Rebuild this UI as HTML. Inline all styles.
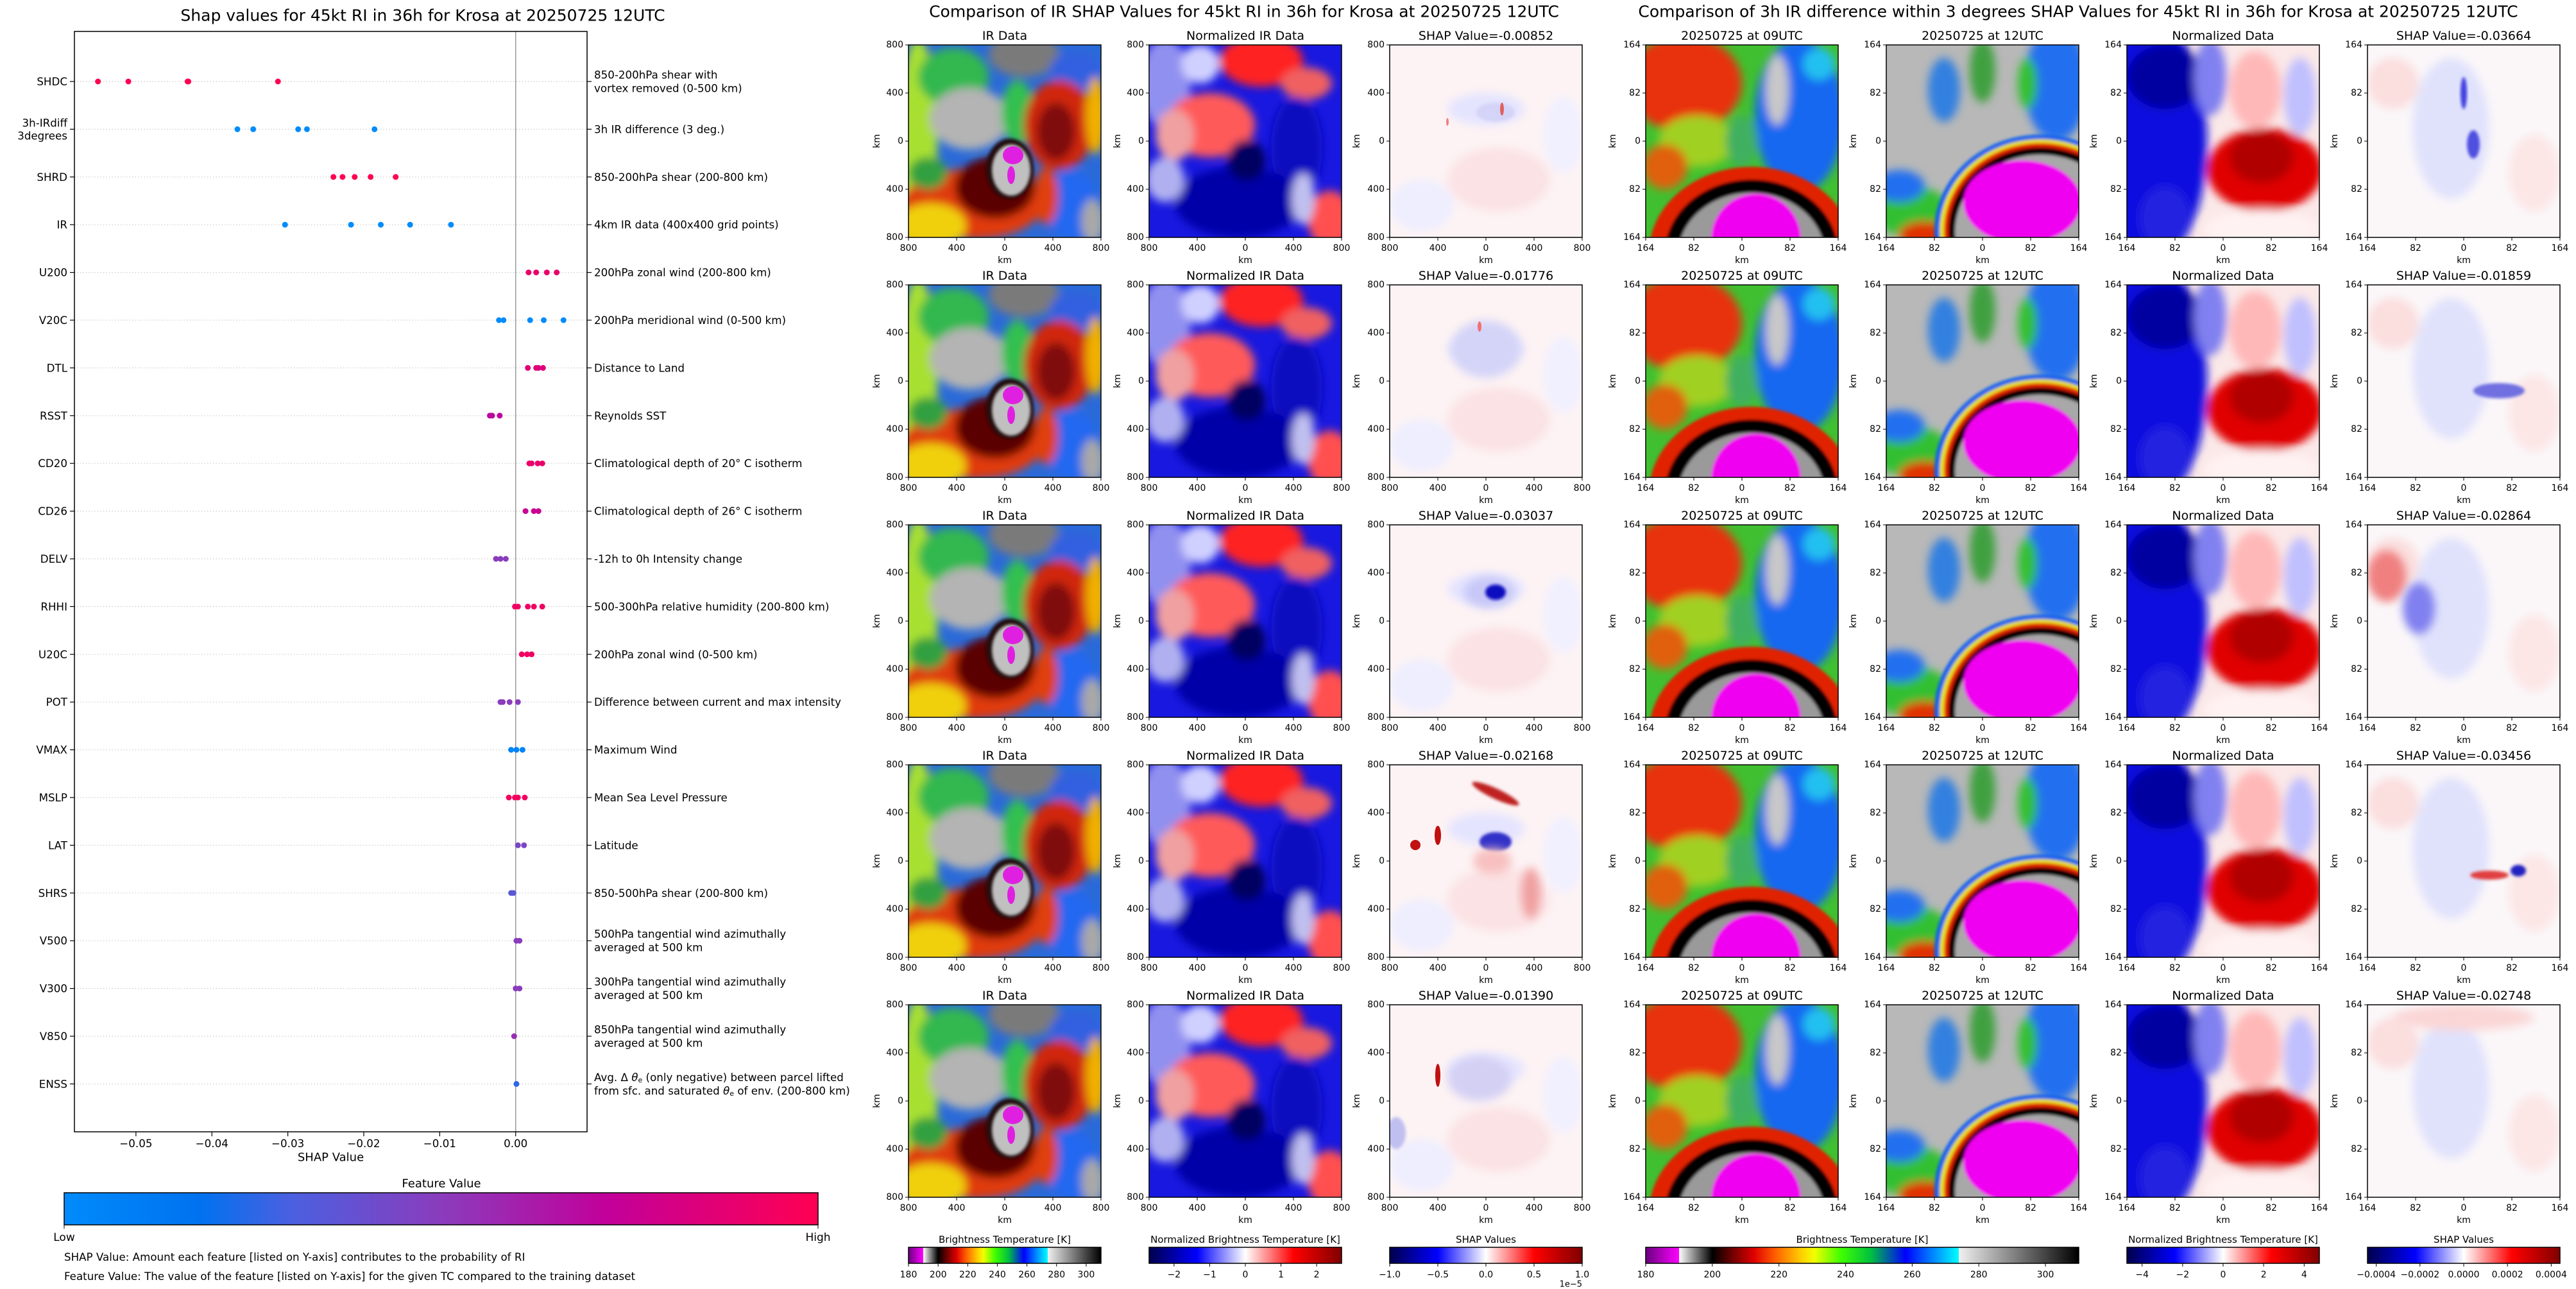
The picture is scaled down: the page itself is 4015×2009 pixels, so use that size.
<!DOCTYPE html>
<html><head><meta charset="utf-8">
<style>
body{margin:0;background:#fff}
svg{display:block;font-family:"DejaVu Sans","Liberation Sans",sans-serif}
</style></head>
<body>
<svg id="fig" width="4015" height="2009" viewBox="0 0 4015 2009" xmlns="http://www.w3.org/2000/svg">
<defs>
<filter id="bl" x="-30%" y="-30%" width="160%" height="160%"><feGaussianBlur stdDeviation="7"/></filter>
<filter id="bs" x="-30%" y="-30%" width="160%" height="160%"><feGaussianBlur stdDeviation="2.5"/></filter>
<clipPath id="pc"><rect width="300" height="300"/></clipPath>
<linearGradient id="gShapCmap"><stop offset="0" stop-color="#008bfb"/><stop offset="0.18" stop-color="#0072ef"/><stop offset="0.3" stop-color="#4a60e0"/><stop offset="0.5" stop-color="#8a3cbc"/><stop offset="0.72" stop-color="#c2009a"/><stop offset="1" stop-color="#ff0052"/></linearGradient>
<linearGradient id="gIR"><stop offset="0" stop-color="#6a0080"/><stop offset="0.0769" stop-color="#ff00ff"/><stop offset="0.0769" stop-color="#ffffff"/><stop offset="0.1538" stop-color="#000000"/><stop offset="0.2" stop-color="#700000"/><stop offset="0.25" stop-color="#e00000"/><stop offset="0.3" stop-color="#ff6000"/><stop offset="0.36" stop-color="#ffd000"/><stop offset="0.39" stop-color="#f0ff00"/><stop offset="0.45" stop-color="#40ff00"/><stop offset="0.52" stop-color="#00c040"/><stop offset="0.6" stop-color="#0000ff"/><stop offset="0.66" stop-color="#0080ff"/><stop offset="0.723" stop-color="#00ffff"/><stop offset="0.723" stop-color="#f0f0f0"/><stop offset="1" stop-color="#000000"/></linearGradient>
<linearGradient id="gSeis"><stop offset="0" stop-color="#00004c"/><stop offset="0.25" stop-color="#0000ff"/><stop offset="0.5" stop-color="#ffffff"/><stop offset="0.75" stop-color="#ff0000"/><stop offset="1" stop-color="#800000"/></linearGradient>

<g id="irImg" clip-path="url(#pc)">
<rect width="300" height="300" fill="#2a6ad8"/>
<g filter="url(#bl)">
<ellipse cx="15" cy="150" rx="30" ry="160" fill="#a8e030"/>
<ellipse cx="70" cy="50" rx="55" ry="45" fill="#30b850"/>
<ellipse cx="95" cy="115" rx="62" ry="48" fill="#b4b4b4"/>
<ellipse cx="180" cy="15" rx="55" ry="35" fill="#7a7a7a"/>
<ellipse cx="260" cy="40" rx="40" ry="30" fill="#3060e0"/>
<ellipse cx="170" cy="105" rx="25" ry="50" fill="#30c050"/>
<ellipse cx="235" cy="125" rx="55" ry="70" fill="#d02808"/>
<ellipse cx="230" cy="135" rx="30" ry="45" fill="#801008"/>
<ellipse cx="292" cy="110" rx="16" ry="60" fill="#f0b000"/>
<ellipse cx="100" cy="248" rx="110" ry="55" fill="#e03a08"/>
<ellipse cx="135" cy="222" rx="62" ry="48" fill="#5a0606"/>
<ellipse cx="35" cy="282" rx="55" ry="35" fill="#f0d010"/>
<ellipse cx="30" cy="200" rx="30" ry="25" fill="#30a040"/>
<ellipse cx="255" cy="250" rx="40" ry="55" fill="#2068f0"/>
<ellipse cx="287" cy="275" rx="18" ry="35" fill="#a8a8a8"/>
<ellipse cx="215" cy="235" rx="18" ry="45" fill="#e04010"/>
</g>
<ellipse cx="158" cy="193" rx="37" ry="47" fill="#201010" filter="url(#bs)"/>
<ellipse cx="160" cy="195" rx="30" ry="40" fill="#c0c0c0" filter="url(#bs)"/>
<ellipse cx="163" cy="172" rx="16" ry="14" fill="#e020e0"/>
<ellipse cx="160" cy="203" rx="6" ry="14" fill="#e020e0"/>
</g>

<g id="normImg" clip-path="url(#pc)">
<rect width="300" height="300" fill="#1818e0"/>
<g filter="url(#bl)">
<ellipse cx="25" cy="60" rx="40" ry="70" fill="#9090f0"/>
<ellipse cx="80" cy="30" rx="30" ry="30" fill="#d0d0ff"/>
<ellipse cx="175" cy="25" rx="65" ry="40" fill="#ff2020"/>
<ellipse cx="245" cy="60" rx="40" ry="25" fill="#f06060"/>
<ellipse cx="95" cy="125" rx="70" ry="50" fill="#ff5a5a"/>
<ellipse cx="40" cy="140" rx="30" ry="40" fill="#f0a0a0"/>
<ellipse cx="230" cy="160" rx="40" ry="80" fill="#0808c0"/>
<ellipse cx="140" cy="245" rx="100" ry="55" fill="#0000a8"/>
<ellipse cx="25" cy="210" rx="30" ry="35" fill="#b0b0f0"/>
<ellipse cx="282" cy="272" rx="35" ry="45" fill="#ff5050"/>
<ellipse cx="240" cy="240" rx="18" ry="40" fill="#c0c0f0"/>
<ellipse cx="152" cy="180" rx="30" ry="32" fill="#000060"/>
</g>
</g>

<g id="shapMid" clip-path="url(#pc)">
<rect width="300" height="300" fill="#fdf3f4"/>
<g filter="url(#bl)">
<ellipse cx="150" cy="100" rx="60" ry="25" fill="#e4e4ff"/>
<ellipse cx="170" cy="210" rx="80" ry="50" fill="#fbe2e4"/>
<ellipse cx="50" cy="250" rx="50" ry="40" fill="#eeeeff"/>
<ellipse cx="270" cy="140" rx="30" ry="60" fill="#f0f0ff"/>
</g>
</g>

<g id="img09" clip-path="url(#pc)">
<rect width="300" height="300" fill="#40c030"/>
<g filter="url(#bl)">
<ellipse cx="60" cy="60" rx="90" ry="75" fill="#e83010"/>
<ellipse cx="240" cy="110" rx="70" ry="120" fill="#1468f0"/>
<ellipse cx="205" cy="70" rx="18" ry="55" fill="#c8c8c8"/>
<ellipse cx="270" cy="30" rx="25" ry="25" fill="#20c0f0"/>
<ellipse cx="80" cy="150" rx="60" ry="40" fill="#a0d020"/>
<ellipse cx="30" cy="190" rx="35" ry="35" fill="#e06010"/>
<ellipse cx="150" cy="150" rx="25" ry="40" fill="#40b060"/>
</g>
<g filter="url(#bs)">
<ellipse cx="165" cy="325" rx="160" ry="135" fill="#e02000"/>
<ellipse cx="165" cy="325" rx="135" ry="115" fill="#000000"/>
<ellipse cx="165" cy="330" rx="115" ry="100" fill="#9a9a9a"/>
<ellipse cx="172" cy="302" rx="70" ry="70" fill="#f000f0"/>
</g>
</g>

<g id="img12" clip-path="url(#pc)">
<rect width="300" height="300" fill="#b8b8b8"/>
<g filter="url(#bl)">
<ellipse cx="265" cy="60" rx="50" ry="90" fill="#2070f0"/>
<ellipse cx="150" cy="40" rx="20" ry="50" fill="#40a040"/>
<ellipse cx="90" cy="70" rx="25" ry="50" fill="#3080e0"/>
<ellipse cx="220" cy="60" rx="15" ry="40" fill="#30c030"/>
<ellipse cx="40" cy="260" rx="60" ry="40" fill="#30c030"/>
<ellipse cx="60" cy="295" rx="40" ry="20" fill="#e03000"/>
<ellipse cx="20" cy="220" rx="40" ry="25" fill="#2070f0"/>
</g>
<g filter="url(#bs)">
<ellipse cx="240" cy="290" rx="165" ry="150" fill="#1060f0"/>
<ellipse cx="240" cy="290" rx="157" ry="143" fill="#e8e020"/>
<ellipse cx="240" cy="290" rx="150" ry="137" fill="#e02000"/>
<ellipse cx="240" cy="290" rx="143" ry="130" fill="#000000"/>
<ellipse cx="240" cy="292" rx="133" ry="121" fill="#a8a8a8"/>
<ellipse cx="212" cy="245" rx="92" ry="65" fill="#f000f0"/>
</g>
</g>

<g id="normR" clip-path="url(#pc)">
<rect width="300" height="300" fill="#fbe8e8"/>
<g filter="url(#bl)">
<ellipse cx="40" cy="150" rx="85" ry="190" fill="#1010e0"/>
<ellipse cx="60" cy="50" rx="60" ry="50" fill="#0000a0"/>
<ellipse cx="130" cy="50" rx="25" ry="60" fill="#8080f0"/>
<ellipse cx="200" cy="70" rx="40" ry="60" fill="#ffb8b8"/>
<ellipse cx="270" cy="80" rx="25" ry="60" fill="#c0c0ff"/>
<ellipse cx="215" cy="195" rx="90" ry="65" fill="#e00000"/>
<ellipse cx="210" cy="175" rx="50" ry="40" fill="#b00000"/>
<ellipse cx="210" cy="287" rx="90" ry="30" fill="#fff2f2"/>
<ellipse cx="60" cy="270" rx="40" ry="50" fill="#2020e0"/>
</g>
</g>

<g id="shapR" clip-path="url(#pc)">
<rect width="300" height="300" fill="#fbf7f9"/>
<g filter="url(#bl)">
<ellipse cx="130" cy="130" rx="60" ry="110" fill="#e0e2fc"/>
<ellipse cx="40" cy="60" rx="40" ry="40" fill="#fbdede"/>
<ellipse cx="260" cy="200" rx="40" ry="60" fill="#fce6e6"/>
</g>
</g>
</defs>

<text x="659" y="24" font-size="25" text-anchor="middle" dominant-baseline="central">Shap values for 45kt RI in 36h for Krosa at 20250725 12UTC</text>
<text x="1939" y="18" font-size="25" text-anchor="middle" dominant-baseline="central">Comparison of IR SHAP Values for 45kt RI in 36h for Krosa at 20250725 12UTC</text>
<text x="3239" y="18" font-size="25" text-anchor="middle" dominant-baseline="central">Comparison of 3h IR difference within 3 degrees SHAP Values for 45kt RI in 36h for Krosa at 20250725 12UTC</text>

<g id="shapChart"></g>
<g id="panels"></g>
<g id="cbars"></g>
</svg>

<script>
const NS="http://www.w3.org/2000/svg";
// ---- SHAP summary chart data ----
const features=["SHDC","3h-IRdiff|3degrees","SHRD","IR","U200","V20C","DTL","RSST","CD20","CD26","DELV","RHHI","U20C","POT","VMAX","MSLP","LAT","SHRS","V500","V300","V850","ENSS"];
const descriptions=["850-200hPa shear with|vortex removed (0-500 km)","3h IR difference (3 deg.)","850-200hPa shear (200-800 km)","4km IR data (400x400 grid points)","200hPa zonal wind (200-800 km)","200hPa meridional wind (0-500 km)","Distance to Land","Reynolds SST","Climatological depth of 20° C isotherm","Climatological depth of 26° C isotherm","-12h to 0h Intensity change","500-300hPa relative humidity (200-800 km)","200hPa zonal wind (0-500 km)","Difference between current and max intensity","Maximum Wind","Mean Sea Level Pressure","Latitude","850-500hPa shear (200-800 km)","500hPa tangential wind azimuthally|averaged at 500 km","300hPa tangential wind azimuthally|averaged at 500 km","850hPa tangential wind azimuthally|averaged at 500 km","Avg. Δ θe (only negative) between parcel lifted|from sfc. and saturated θe of env. (200-800 km)"];
const shapValues=[
[-0.0550,-0.0510,-0.0432,-0.0431,-0.0313],
[-0.03664,-0.03456,-0.02864,-0.02748,-0.01859],
[-0.0240,-0.0228,-0.0212,-0.0191,-0.0158],
[-0.03037,-0.02168,-0.01776,-0.01390,-0.00852],
[0.0017,0.0027,0.0041,0.0054],
[-0.0022,-0.0016,0.0019,0.0037,0.0063],
[0.0016,0.0027,0.0030,0.0036],
[-0.0034,-0.0031,-0.0021],
[0.0018,0.0021,0.0029,0.0035],
[0.0013,0.0024,0.0030],
[-0.0026,-0.0020,-0.0013],
[-0.0001,0.0003,0.0016,0.0024,0.0035],
[0.0008,0.0015,0.0021],
[-0.0020,-0.0017,-0.0008,0.0003],
[-0.0006,0.0001,0.0009],
[-0.0009,-0.0001,0.0003,0.0012],
[0.0003,0.0011],
[-0.0006,-0.0003],
[0.0001,0.0005],
[0.0000,0.0005],
[-0.0002],
[0.0001]
];
const featureValues=[1.0,0.0,1.0,0.0,0.9,0.0,0.85,0.7,0.9,0.75,0.5,0.93,0.93,0.5,0.05,0.95,0.45,0.35,0.5,0.5,0.55,0.25];
const xTicks=[-0.05,-0.04,-0.03,-0.02,-0.01,0.00];
const xTickLabels=["−0.05","−0.04","−0.03","−0.02","−0.01","0.00"];
const xDomain=[-0.0581,0.0094];

// ---- Panel data ----
const midShapTitles=["-0.00852","-0.01776","-0.03037","-0.02168","-0.01390"];
const rightShapTitles=["-0.03664","-0.01859","-0.02864","-0.03456","-0.02748"];
const kmTicksMid=["800","400","0","400","800"];
const kmTicksRight=["164","82","0","82","164"];
const irCbarTicks=[180,200,220,240,260,280,300];
const irCbarRange=[180,310];
const normMidTicks=[-2,-1,0,1,2];
const normMidRange=[-2.7,2.7];
const shapMidTicks=[-1.0,-0.5,0.0,0.5,1.0];
const shapMidRange=[-1.0,1.0];
const normRightTicks=[-4,-2,0,2,4];
const normRightRange=[-4.75,4.75];
const shapRightTicks=[-0.0004,-0.0002,0.0000,0.0002,0.0004];
const shapRightRange=[-0.00044,0.00044];

function mk(tag,attrs,parent){const e=document.createElementNS(NS,tag);for(const k in attrs)e.setAttribute(k,attrs[k]);parent.appendChild(e);return e;}

const ax={l:116,r:915,t:49,b:1764};
const xScale=v=>ax.l+(v-xDomain[0])/(xDomain[1]-xDomain[0])*(ax.r-ax.l);
const yScale=i=>127+i*74.4;
const cmapStops=[[0,[0,139,251]],[0.18,[0,114,239]],[0.3,[74,96,224]],[0.5,[138,60,188]],[0.72,[194,0,154]],[1,[255,0,82]]];
function cmap(t){for(let i=1;i<cmapStops.length;i++){const a=cmapStops[i-1],b=cmapStops[i];if(t<=b[0]){const f=(t-a[0])/(b[0]-a[0]);return "rgb("+a[1].map((c,k)=>Math.round(c+(b[1][k]-c)*f)).join(",")+")";}}return "rgb(255,0,82)";}

const sc=document.getElementById("shapChart");
features.forEach((f,i)=>{
  const y=yScale(i);
  const g=mk("line",{x1:ax.l,x2:ax.r,y1:y,y2:y,stroke:"#cccccc","stroke-width":1.2,"stroke-dasharray":"1.5,3"},sc);
  
  
  const tl=mk("line",{x1:ax.l-7,x2:ax.l,y1:y,y2:y,stroke:"#000","stroke-width":1.2},sc);
  
  
  const tr=mk("line",{x1:ax.r,x2:ax.r+7,y1:y,y2:y,stroke:"#000","stroke-width":1.2},sc);
  
  
  const lines=f.split("|");
  lines.forEach((ln,k)=>{
    const t=mk("text",{x:105,y:y+(k-(lines.length-1)/2)*20,"font-size":16.7,"text-anchor":"end","dominant-baseline":"central"},sc);
    t.textContent=ln;
    
    
  });
  const dl=descriptions[i].split("|");
  dl.forEach((ln,k)=>{
    const t=mk("text",{x:926,y:y+(k-(dl.length-1)/2)*21,"font-size":16.7,"dominant-baseline":"central"},sc);
    t.innerHTML=ln.replace(/θe/g,'<tspan font-style="italic">θ</tspan><tspan font-size="11" dy="4">e</tspan><tspan dy="-4">\u200b</tspan>');
    
    
  });
});
const zl=mk("line",{x1:xScale(0),x2:xScale(0),y1:ax.t,y2:ax.b,stroke:"#999999","stroke-width":1.5},sc);


shapValues.forEach((vals,i)=>{
  vals.forEach(v=>{
    const c=mk("circle",{cx:xScale(v),cy:yScale(i),r:4.5,fill:cmap(featureValues[i])},sc);
    
    
  });
});
const box=mk("rect",{x:ax.l,y:ax.t,width:ax.r-ax.l,height:ax.b-ax.t,fill:"none",stroke:"#000","stroke-width":1.5},sc);


xTicks.forEach((v,k)=>{
  const x=xScale(v);
  const tk=mk("line",{x1:x,x2:x,y1:ax.b,y2:ax.b+7,stroke:"#000","stroke-width":1.2},sc);
  
  
  const t=mk("text",{x:x,y:1782,"font-size":16.7,"text-anchor":"middle","dominant-baseline":"central"},sc);
  t.textContent=xTickLabels[k];
  
  
});
const xl=mk("text",{x:(ax.l+ax.r)/2,y:1804,"font-size":18,"text-anchor":"middle","dominant-baseline":"central"},sc);
xl.textContent="SHAP Value";


const fvt=mk("text",{x:688,y:1845,"font-size":18,"text-anchor":"middle","dominant-baseline":"central"},sc);
fvt.textContent="Feature Value";


const fcb=mk("rect",{x:100,y:1859,width:1175,height:50,fill:"url(#gShapCmap)",stroke:"#000","stroke-width":1.5},sc);


[[100,"Low"],[1275,"High"]].forEach(([x,s])=>{
  const tk=mk("line",{x1:x,x2:x,y1:1909,y2:1915,stroke:"#000"},sc);
  
  
  const t=mk("text",{x:x,y:1929,"font-size":17,"text-anchor":"middle","dominant-baseline":"central"},sc);
  t.textContent=s;
  
  
});
["SHAP Value: Amount each feature [listed on Y-axis] contributes to the probability of RI","Feature Value: The value of the feature [listed on Y-axis] for the given TC compared to the training dataset"].forEach((s,k)=>{
  const t=mk("text",{x:100,y:1959+k*30,"font-size":16.7,"dominant-baseline":"central"},sc);
  t.textContent=s;
  
  
});

const P=document.getElementById("panels");
const midCols=[1416,1791,2166], rightCols=[2565,2940,3315,3690], rowTops=[70,444,818,1192,1566];
const S=300;
const extraMid=[
 '<ellipse cx="165" cy="105" rx="30" ry="15" fill="#d4d4f8" filter="url(#bs)"/><ellipse cx="175" cy="100" rx="3" ry="10" fill="#e06060"/><ellipse cx="90" cy="120" rx="2" ry="6" fill="#f08080"/>',
 '<ellipse cx="150" cy="100" rx="55" ry="45" fill="#d4d4f8" filter="url(#bl)"/><ellipse cx="140" cy="65" rx="3" ry="8" fill="#f07070"/>',
 '<ellipse cx="155" cy="105" rx="40" ry="25" fill="#c8c8f8" filter="url(#bl)"/><ellipse cx="165" cy="105" rx="16" ry="12" fill="#1010c0" filter="url(#bs)"/>',
 '<ellipse cx="165" cy="45" rx="40" ry="8" fill="#c02020" filter="url(#bs)" transform="rotate(25 165 45)"/><ellipse cx="75" cy="110" rx="5" ry="15" fill="#c01010"/><ellipse cx="40" cy="125" rx="8" ry="8" fill="#c01010"/><ellipse cx="165" cy="120" rx="25" ry="15" fill="#3030c8" filter="url(#bs)"/><ellipse cx="160" cy="150" rx="30" ry="20" fill="#f8c0c0" filter="url(#bl)"/><ellipse cx="220" cy="200" rx="15" ry="40" fill="#f0a0a0" filter="url(#bl)"/>',
 '<ellipse cx="140" cy="115" rx="50" ry="35" fill="#d4d0f4" filter="url(#bl)"/><ellipse cx="75" cy="110" rx="4" ry="18" fill="#c01010"/><ellipse cx="10" cy="200" rx="15" ry="25" fill="#c0c0f0" filter="url(#bs)"/>'
];
const extraRight=[
 '<ellipse cx="150" cy="75" rx="5" ry="25" fill="#4040e0" filter="url(#bs)"/><ellipse cx="165" cy="155" rx="10" ry="22" fill="#5050e0" filter="url(#bs)"/>',
 '<ellipse cx="205" cy="165" rx="40" ry="12" fill="#7070e0" filter="url(#bs)"/>',
 '<ellipse cx="30" cy="80" rx="30" ry="40" fill="#f08080" filter="url(#bl)"/><ellipse cx="80" cy="130" rx="25" ry="40" fill="#8080f0" filter="url(#bl)"/>',
 '<ellipse cx="190" cy="172" rx="30" ry="7" fill="#e04040" filter="url(#bs)"/><ellipse cx="235" cy="165" rx="12" ry="9" fill="#2020c0" filter="url(#bs)"/>',
 '<ellipse cx="150" cy="20" rx="110" ry="20" fill="#fbd6d6" filter="url(#bl)"/>'
];
function panelAxes(x0,y0,title,ticks,yKm,titleName){
  const fr=mk("rect",{x:x0,y:y0,width:S,height:S,fill:"none",stroke:"#000","stroke-width":1.5},P);
  
  
  const t=mk("text",{x:x0+S/2,y:y0-14,"font-size":19,"text-anchor":"middle","dominant-baseline":"central"},P);
  t.textContent=title;
  
  
  ticks.forEach((lab,k)=>{
    const f=k/(ticks.length-1);
    const xx=x0+f*S, yy=y0+f*S;
    const a=mk("line",{x1:xx,x2:xx,y1:y0+S,y2:y0+S+5,stroke:"#000"},P);
    
    
    const b=mk("line",{x1:x0-5,x2:x0,y1:yy,y2:yy,stroke:"#000"},P);
    
    
    const tx=mk("text",{x:xx,y:y0+S+17,"font-size":14,"text-anchor":"middle","dominant-baseline":"central"},P);
    tx.textContent=lab;
    
    
    const ty=mk("text",{x:x0-8,y:yy,"font-size":14,"text-anchor":"end","dominant-baseline":"central"},P);
    ty.textContent=lab;
    
    
  });
  const kx=mk("text",{x:x0+S/2,y:y0+S+36,"font-size":14,"text-anchor":"middle","dominant-baseline":"central"},P);
  kx.textContent="km";
  
  
  const ky=mk("text",{x:x0-yKm,y:y0+S/2,"font-size":14,"text-anchor":"middle","dominant-baseline":"central",transform:`rotate(-90 ${x0-yKm} ${y0+S/2})`},P);
  ky.textContent="km";
  
  
}
function img(id,x,y,extra,name){
  const g=mk("g",{transform:`translate(${x},${y})`},P);
  
  
  const u=mk("use",{href:"#"+id},g);
  
  
  if(extra){const e=mk("g",{"clip-path":"url(#pc)"},g);e.innerHTML=extra;}
}
rowTops.forEach((y,r)=>{
  img("irImg",midCols[0],y,null,"ir-data-image");
  img("normImg",midCols[1],y,null,"normalized-ir-image");
  img("shapMid",midCols[2],y,extraMid[r],"ir-shap-image");
  panelAxes(midCols[0],y,"IR Data",kmTicksMid,49,"ir-data-title");
  panelAxes(midCols[1],y,"Normalized IR Data",kmTicksMid,49,"normalized-ir-title");
  panelAxes(midCols[2],y,"SHAP Value="+midShapTitles[r],kmTicksMid,51,"ir-shap-title");
  img("img09",rightCols[0],y,null,"ir-09utc-image");
  img("img12",rightCols[1],y,null,"ir-12utc-image");
  img("normR",rightCols[2],y,null,"normalized-diff-image");
  img("shapR",rightCols[3],y,extraRight[r],"diff-shap-image");
  panelAxes(rightCols[0],y,"20250725 at 09UTC",kmTicksRight,51,"ir-09utc-title");
  panelAxes(rightCols[1],y,"20250725 at 12UTC",kmTicksRight,51,"ir-12utc-title");
  panelAxes(rightCols[2],y,"Normalized Data",kmTicksRight,51,"normalized-diff-title");
  panelAxes(rightCols[3],y,"SHAP Value="+rightShapTitles[r],kmTicksRight,51,"diff-shap-title");
});

const C=document.getElementById("cbars");
function fmt(v,dec){return (v<0?"−":"")+Math.abs(v).toFixed(dec);}
function cbar(x0,w,grad,title,ticks,range,dec,name){
  const r=mk("rect",{x:x0,y:1944,width:w,height:25,fill:`url(#${grad})`,stroke:"#000","stroke-width":1.5},C);
  
  
  const t=mk("text",{x:x0+w/2,y:1932,"font-size":15,"text-anchor":"middle","dominant-baseline":"central"},C);
  t.textContent=title;
  
  
  ticks.forEach(v=>{
    const x=x0+(v-range[0])/(range[1]-range[0])*w;
    const l=mk("line",{x1:x,x2:x,y1:1969,y2:1974,stroke:"#000"},C);
    
    
    const tx=mk("text",{x:x,y:1987,"font-size":14,"text-anchor":"middle","dominant-baseline":"central"},C);
    tx.textContent=fmt(v,dec);
    
    
  });
}
cbar(1416,300,"gIR","Brightness Temperature [K]",irCbarTicks,irCbarRange,0,"ir-colorbar");
cbar(1791,300,"gSeis","Normalized Brightness Temperature [K]",normMidTicks,normMidRange,0,"normalized-colorbar");
cbar(2166,300,"gSeis","SHAP Values",shapMidTicks,shapMidRange,1,"shap-colorbar");
cbar(2565,675,"gIR","Brightness Temperature [K]",irCbarTicks,irCbarRange,0,"diff-ir-colorbar");
cbar(3315,300,"gSeis","Normalized Brightness Temperature [K]",normRightTicks,normRightRange,0,"diff-normalized-colorbar");
cbar(3690,300,"gSeis","SHAP Values",shapRightTicks,shapRightRange,4,"diff-shap-colorbar");
const ex=mk("text",{x:2466,y:2002,"font-size":13,"text-anchor":"end","dominant-baseline":"central"},C);
ex.textContent="1e−5";


</script>
</body></html>
